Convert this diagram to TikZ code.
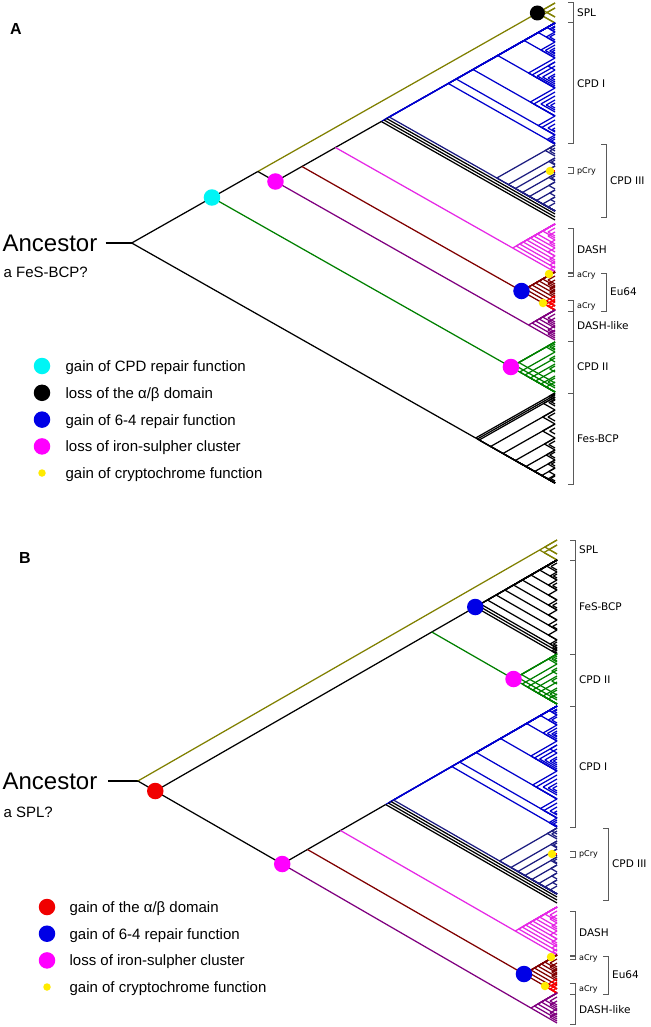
\documentclass[tikz,border=0pt]{standalone}
\usepackage{fontspec}
\setmainfont{Liberation Sans}
\newfontfamily\labfont{DejaVu Sans}

\definecolor{splcol}{RGB}{128,128,0}
\definecolor{cpdIcol}{RGB}{0,0,205}
\definecolor{cpdIIIcol}{RGB}{28,28,128}
\definecolor{dashcol}{RGB}{230,40,230}
\definecolor{eucol}{RGB}{128,0,0}
\definecolor{dlcol}{RGB}{128,0,128}
\definecolor{cpdIIcol}{RGB}{0,128,0}
\definecolor{brkcol}{RGB}{90,90,90}
\definecolor{dotcyan}{RGB}{0,245,245}
\definecolor{dotblue}{RGB}{0,0,230}
\definecolor{dotpink}{RGB}{255,0,255}
\definecolor{dotyel}{RGB}{255,235,0}
\definecolor{dotred}{RGB}{240,0,0}

\newcommand{\ab}{α/β}

% tips sit on x = \tipx, every branch has slope \slope
\def\tipx{555}
\def\slope{0.567}

% inner node spanning the tips #2 .. #3
\newcommand{\cladepos}[3]{%
  \pgfmathsetmacro{\clx}{\tipx-((#3)-(#2))/(2*\slope)}%
  \pgfmathsetmacro{\cly}{((#2)+(#3))/2}%
  \coordinate (#1) at (\clx,\cly);}

% node with both branches running out to its outer tips
\newcommand{\clade}[4]{%
  \cladepos{cl}{#1}{#2}%
  \draw[#3] (cl) -- (\tipx,{#1});
  \draw[#4] (cl) -- (\tipx,{#2});}

% bracket with its label
\newcommand{\bracket}[6]{%
  \draw[brk] ({#2-5},{#3}) -- ({#2},{#3}) -- ({#2},{#4}) -- ({#2-5},{#4});
  \node[#5] (#1) at ({#2+3.5},{((#3)+(#4))/2}) {#6};}

\newcommand{\splclade}[1]{%
  \foreach \tp/\bt in {3/23,3/17,8/17,8/23}
    {\clade{#1+\tp}{#1+\bt}{splcol}{splcol}}}

\newcommand{\cpdtwoclades}[1]{%
  \foreach \tp/\bt in {342/392,342/388,342/383,342/352,344/350,352/392,358/392,
      364/392,370/392,376/392,382/392,356/362,366/372,378/386,346/349}
    {\clade{#1+\tp}{#1+\bt}{cpdIIcol}{cpdIIcol}}}

% DASH-like, Eu64, DASH, CPD I and CPD III; #1 shift, #2 panel
\newcommand{\coreclades}[2]{%
  \cladepos{n4#2}{#1+23}{#1+310}
  \cladepos{n5#2}{#1+23}{#1+272}
  \cladepos{dl#2}{#1+310}{#1+340}
  \cladepos{eu#2}{#1+272}{#1+310}
  \cladepos{da#2}{#1+224}{#1+272}
  \cladepos{k#2}{#1+23}{#1+220}
  % Edge: n3 -> n4
  \draw (n3#2) -- (n4#2);
  % Edge: n3 -> dl
  \draw[dlcol] (n3#2) -- (dl#2);
  % Edge: n4 -> n5
  \draw (n4#2) -- (n5#2);
  % Edge: n4 -> eu
  \draw[eucol] (n4#2) -- (eu#2);
  % Edge: n5 -> k
  \draw (n5#2) -- (k#2);
  % Edge: n5 -> da
  \draw[dashcol] (n5#2) -- (da#2);
  \clade{#1+23}{#1+220}{cpdIcol}{black}
  \clade{#1+23}{#1+217}{cpdIcol}{black}
  \clade{#1+23}{#1+214}{cpdIcol}{black}
  \clade{#1+23}{#1+211}{cpdIcol}{cpdIIIcol}
  \foreach \tp/\bt in {23/144,23/135,23/116,23/88,23/58,23/42,23/32,26/32,27/30,
      32/42,34/40,42/58,45/56,48/54,50/53,58/88,62/88,66/86,70/84,74/82,76/80,
      62/70,88/116,92/116,96/112,100/110,103/108,116/135,120/135,124/132,
      128/131,135/144,137/144,139/143}
    {\clade{#1+\tp}{#1+\bt}{cpdIcol}{cpdIcol}}
  \foreach \tp/\bt in {145/211,158/211,166/211,174/211,182/211,190/211,197/211,
      203/211,145/156,145/151,148/154,158/165,160/164,166/173,174/181,176/180,
      182/189,190/196,197/202}
    {\clade{#1+\tp}{#1+\bt}{cpdIIIcol}{cpdIIIcol}}
  \draw[red,line width=2.5pt] ({\tipx-4},{#1+171}) -- (\tipx,{#1+171});
  \foreach \tp/\bt in {224/272,224/268,224/264,224/260,224/256,224/252,224/248,
      224/244,224/238,228/236,232/240,240/246,248/256,256/262,262/268,266/271}
    {\clade{#1+\tp}{#1+\bt}{dashcol}{dashcol}}
  \foreach \tp/\bt in {272/310,272/306,272/302,272/298,272/294,272/290,272/286,
      276/284,280/288,286/292,290/296}
    {\clade{#1+\tp}{#1+\bt}{eucol}{eucol}}
  \foreach \tp/\bt in {296/310,299/310,302/310,305/310,300/306}
    {\clade{#1+\tp}{#1+\bt}{red}{red}}
  \foreach \tp/\bt in {310/340,310/336,310/332,310/328,310/324,314/322,318/326,
      326/334,330/338}
    {\clade{#1+\tp}{#1+\bt}{dlcol}{dlcol}}
  % Node: n3
  \node[tdot=dotpink] (m3#2) at (n3#2) {};
  % Node: eu
  \node[tdot=dotblue] (m6#2) at (eu#2) {};
  \node[ydot] (yp#2) at ({\tipx-5},{#1+171}) {};
  \node[ydot] (ya#2) at ({\tipx-6},{#1+274}) {};
  \node[ydot] (yb#2) at ({\tipx-12},{#1+303}) {};
  \bracket{cpdI#2}{\tipx+18}{#1+23}{#1+144}{lab}{CPD I}
  \bracket{pcry#2}{\tipx+18}{#1+168}{#1+174}{sml}{pCry}
  \bracket{cpdIII#2}{\tipx+51}{#1+145}{#1+217}{lab}{CPD III}
  \bracket{dash#2}{\tipx+18}{#1+228}{#1+272}{lab}{DASH}
  \bracket{acryI#2}{\tipx+18}{#1+273}{#1+276}{sml}{aCry}
  \bracket{eul#2}{\tipx+51}{#1+273}{#1+311}{lab}{Eu64}
  \bracket{acryII#2}{\tipx+18}{#1+300}{#1+311}{sml}{aCry}
  \bracket{dll#2}{\tipx+18}{#1+311}{#1+341}{lab}{DASH-like}}

\begin{document}
\begin{tikzpicture}[x=1pt,y=-1pt,line width=1.25pt,
  brk/.style={brkcol,line width=1pt},
  lab/.style={anchor=west,inner sep=0pt,text depth=0pt,font=\labfont\fontsize{10.5}{12}\selectfont},
  sml/.style={lab,font=\labfont\fontsize{8}{9}\selectfont},
  leg/.style={anchor=west,inner sep=0pt,text depth=0pt,font=\fontsize{15}{18}\selectfont},
  anc/.style={anchor=base west,inner sep=0pt,font=\fontsize{24}{28}\selectfont},
  pan/.style={inner sep=0pt,font=\bfseries\fontsize{16}{18}\selectfont},
  tdot/.style={circle,fill=#1,inner sep=0pt,minimum size=16.5pt},
  ydot/.style={circle,fill=dotyel,inner sep=0pt,minimum size=8.5pt}]
\fill[white] (0,0) rectangle (650,1027);
\useasboundingbox (0,0) rectangle (650,1027);

%%% panel A
\begin{scope}
  \def\tipx{555}
  \def\slope{0.567}
  \node[pan] (panA) at (16,29) {A};
  \node[anc] (ancA) at (2,251) {Ancestor};
  \node[leg] (subA) at (3,272) {a FeS-BCP?};
  \cladepos{rootA}{3}{483}
  \cladepos{n1A}{3}{392}
  \cladepos{n2A}{3}{340}
  \cladepos{n3A}{23}{340}
  \cladepos{splA}{3}{23}
  \cladepos{c2A}{342}{392}
  \cladepos{fesA}{393}{483}
  \path (rootA) ++(-26,0) coordinate (stubA);
  % Edge: stubA -> rootA
  \draw (stubA) -- (rootA);
  % Edge: rootA -> n1A
  \draw (rootA) -- (n1A);
  % Edge: rootA -> fesA
  \draw (rootA) -- (fesA);
  % Edge: n1A -> n2A
  \draw (n1A) -- (n2A);
  % Edge: n1A -> c2A
  \draw[cpdIIcol] (n1A) -- (c2A);
  % Edge: n2A -> splA
  \draw[splcol] (n2A) -- (splA);
  % Edge: n2A -> n3A
  \draw (n2A) -- (n3A);
  \splclade{0}
  \foreach \tp/\bt in {393/483,395/483,397/483,410/483,424/483,438/483,450/483,
      460/483,468/483,475/483,397/410,399/406,400/404,410/424,413/421,424/438,
      428/434,438/450,441/448,450/460,452/458,460/468,462/466,468/475,476/481,
      393/400,394/398}
    {\clade{\tp}{\bt}{black}{black}}
  \cpdtwoclades{0}
  \coreclades{0}{A}
  % Node: n1A
  \node[tdot=dotcyan] (m1A) at (n1A) {};
  % Node: splA
  \node[tdot=black,minimum size=15pt] (m2A) at (splA) {};
  % Node: c2A
  \node[tdot=dotpink] (m4A) at (c2A) {};
  \bracket{splAl}{573}{3}{23}{lab}{SPL}
  \bracket{cpdIIAl}{573}{341}{393}{lab}{CPD II}
  \bracket{fesAl}{573}{393}{484}{lab}{Fes-BCP}
  % legend
  \foreach \c/\txt [count=\i from 0] in {dotcyan/gain of CPD repair function,
      black/loss of the \ab{} domain,dotblue/gain of 6-4 repair function,
      dotpink/loss of iron-sulpher cluster}{
    \node[tdot=\c] (lgA\i) at (42,{366+26.8*\i}) {};
    \node[leg] (ltA\i) at (65,{366+26.8*\i}) {\txt};}
  \node[ydot,minimum size=7.5pt] (lgA4) at (42,473) {};
  \node[leg] (ltA4) at (65,473) {gain of cryptochrome function};
\end{scope}

%%% panel B
\begin{scope}
  \def\tipx{557}
  \def\slope{0.575}
  \node[pan] (panB) at (25,558) {B};
  \node[anc] (ancB) at (2,789) {Ancestor};
  \node[leg] (subB) at (3,812) {a SPL?};
  \cladepos{rootB}{540}{1022}
  \cladepos{n1B}{560}{1022}
  \cladepos{n2B}{560}{704}
  \cladepos{n3B}{706}{1022}
  \cladepos{splB}{540}{560}
  \cladepos{fesB}{560}{654}
  \cladepos{c2B}{654}{704}
  \path (rootB) ++(-30,0) coordinate (stubB);
  % Edge: stubB -> rootB
  \draw (stubB) -- (rootB);
  % Edge: rootB -> splB
  \draw[splcol] (rootB) -- (splB);
  % Edge: rootB -> n1B
  \draw (rootB) -- (n1B);
  % Edge: n1B -> n2B
  \draw (n1B) -- (n2B);
  % Edge: n1B -> n3B
  \draw (n1B) -- (n3B);
  % Edge: n2B -> fesB
  \draw (n2B) -- (fesB);
  % Edge: n2B -> c2B
  \draw[cpdIIcol] (n2B) -- (c2B);
  \splclade{537}
  \foreach \tp/\bt in {560/654,560/651,560/648,560/640,560/630,560/620,560/610,
      560/600,560/590,560/580,560/572,563/570,572/580,574/578,580/590,583/588,
      590/600,600/610,603/608,610/620,620/630,624/629,630/640,640/648,642/646,
      645/650,648/654,650/653}
    {\clade{\tp}{\bt}{black}{black}}
  \cpdtwoclades{312}
  \coreclades{683}{B}
  % Node: n1B
  \node[tdot=dotred] (m1B) at (n1B) {};
  % Node: fesB
  \node[tdot=dotblue] (m2B) at (fesB) {};
  % Node: c2B
  \node[tdot=dotpink] (m4B) at (c2B) {};
  \bracket{splBl}{575}{540}{560}{lab}{SPL}
  \bracket{fesBl}{575}{560}{654}{lab}{FeS-BCP}
  \bracket{cpdIIBl}{575}{654}{706}{lab}{CPD II}
  % legend
  \foreach \c/\txt [count=\i from 0] in {dotred/gain of the \ab{} domain,
      dotblue/gain of 6-4 repair function,dotpink/loss of iron-sulpher cluster}{
    \node[tdot=\c] (lgB\i) at (47,{907+26.7*\i}) {};
    \node[leg] (ltB\i) at (69,{907+26.7*\i}) {\txt};}
  \node[ydot,minimum size=7.5pt] (lgB3) at (47,987) {};
  \node[leg] (ltB3) at (69,987) {gain of cryptochrome function};
\end{scope}
\end{tikzpicture}
\end{document}
